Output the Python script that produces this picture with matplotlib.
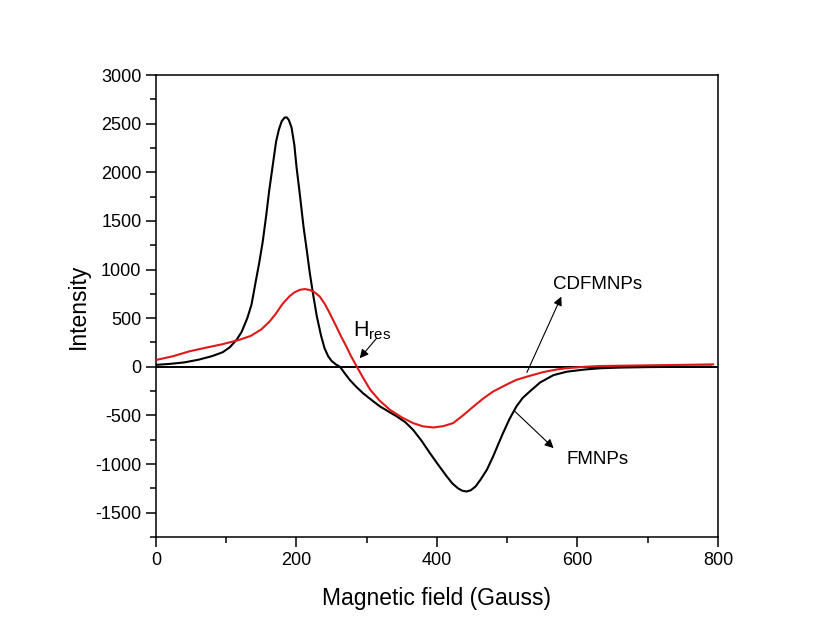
import matplotlib
matplotlib.use("Agg")
import matplotlib.pyplot as plt
from matplotlib.ticker import MultipleLocator

plt.rcParams["font.family"] = ["Liberation Sans", "DejaVu Sans"]
plt.rcParams["mathtext.fontset"] = "custom"
plt.rcParams["mathtext.rm"] = "Liberation Sans"
plt.rcParams["mathtext.it"] = "Liberation Sans:italic"
plt.rcParams["axes.unicode_minus"] = False

# FMNPs spectrum (black)
fm_field = [0, 20, 40, 60, 80, 95, 105, 115, 122, 130, 136, 142, 147, 152,
            157, 161, 166, 171, 175, 179, 183, 186, 189, 193, 197, 200, 205,
            210, 215, 219, 224, 229, 235, 240, 245, 250, 256, 262, 268, 276,
            285, 295, 307, 319, 331, 343, 355, 366, 378, 390, 402, 414, 422,
            430, 436, 442, 448, 455, 462, 471, 480, 487, 494, 503, 513, 522,
            532, 547, 566, 585, 610, 632, 660, 700, 750, 790]
fm_int = [20, 30, 45, 72, 110, 150, 200, 280, 360, 500, 640, 877, 1070, 1288,
          1560, 1802, 2060, 2316, 2440, 2525, 2562, 2565, 2540, 2460, 2280,
          2059, 1760, 1442, 1180, 963, 730, 517, 320, 190, 110, 60, 25, 0, -60,
          -136, -205, -273, -342, -408, -460, -511, -570, -648, -760, -888,
          -1010, -1128, -1200, -1250, -1274, -1282, -1270, -1230, -1160, -1059,
          -920, -800, -682, -540, -408, -320, -254, -160, -85, -50, -28, -15,
          -8, -3, 0, 2]

# CDFMNPs spectrum (red)
cd_field = [0, 25, 47, 70, 95, 119, 135, 150, 161, 170, 180, 190, 197, 205,
            212, 219, 226, 233, 240, 246, 252, 258, 264, 271, 278, 286, 295,
            305, 318, 333, 350, 366, 380, 395, 409, 423, 437, 452, 466, 480,
            497, 513, 532, 551, 570, 585, 610, 632, 700, 750, 793]
cd_int = [70, 110, 158, 195, 233, 278, 318, 385, 460, 540, 645, 725, 765, 792,
          799, 790, 765, 723, 650, 570, 483, 395, 305, 209, 105, 0, -115, -236,
          -345, -442, -520, -579, -612, -624, -610, -579, -500, -408, -325,
          -254, -190, -134, -93, -55, -28, -14, 0, 8, 15, 20, 25]

fig = plt.figure(figsize=(8.2, 6.38), dpi=100)
ax = fig.add_axes([0.1902, 0.1583, 0.6854, 0.7241])

ax.axhline(0, color="black", lw=1.4, zorder=1)
ax.plot(fm_field, fm_int, color="black", lw=1.5, zorder=2)
ax.plot(cd_field, cd_int, color="#e01818", lw=1.5, zorder=3)

ax.set_xlim(0, 800)
ax.set_ylim(-1750, 3000)
ax.xaxis.set_major_locator(MultipleLocator(200))
ax.xaxis.set_minor_locator(MultipleLocator(100))
ax.yaxis.set_major_locator(MultipleLocator(500))
ax.yaxis.set_minor_locator(MultipleLocator(250))
ax.tick_params(which="major", direction="out", length=7, width=1.1,
               labelsize=13, top=False, right=False)
ax.tick_params(which="minor", direction="out", length=4.3, width=1.1,
               top=False, right=False)
for s in ax.spines.values():
    s.set_linewidth(1.1)

ax.set_xlabel("Magnetic field (Gauss)", fontsize=16.5, labelpad=13)
ax.set_ylabel("Intensity", fontsize=16.5, labelpad=4)

arrow = dict(arrowstyle="-|>", color="black", lw=0.8, mutation_scale=13,
             shrinkA=0, shrinkB=0)
ax.text(280, 375, r"H$_{\mathrm{res}}$", fontsize=15.5, ha="left", va="center")
ax.annotate("", xy=(290, 88), xytext=(314, 293), arrowprops=arrow)

ax.text(628, 850, "CDFMNPs", fontsize=13.5, ha="center", va="center")
ax.annotate("", xy=(577, 722), xytext=(528, -58), arrowprops=arrow)

ax.text(628, -956, "FMNPs", fontsize=13.5, ha="center", va="center")
ax.annotate("", xy=(566, -836), xytext=(511, -459), arrowprops=arrow)

fig.savefig("out.png", dpi=100)
